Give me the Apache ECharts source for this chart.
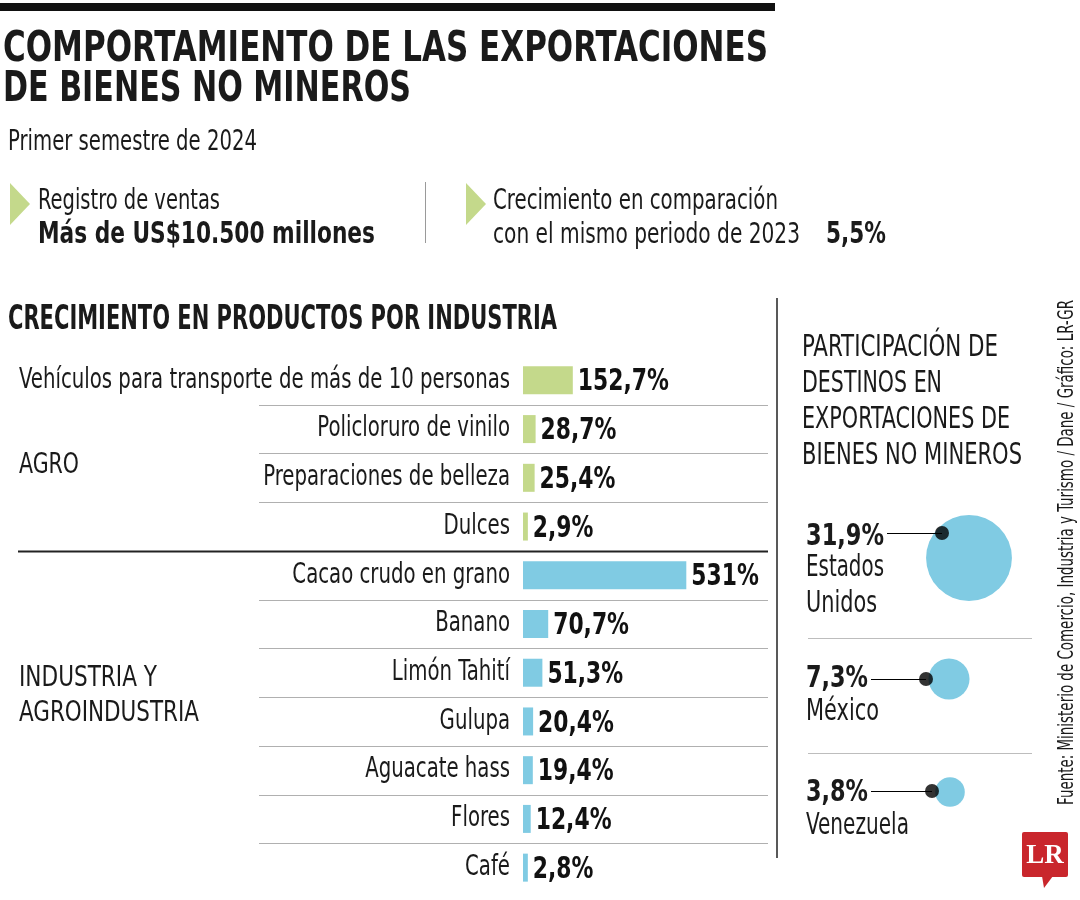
<!DOCTYPE html>
<html><head><meta charset="utf-8">
<script src="https://cdn.jsdelivr.net/npm/echarts@6/dist/echarts.min.js"></script>
<style>html,body{margin:0;padding:0;background:#fff}#c{width:1080px;height:900px}</style>
</head><body><div id="c"></div>
<script>
// ---- data ----
const agroCats = ['Vehículos para transporte de más de 10 personas', 'Policloruro de vinilo', 'Preparaciones de belleza', 'Dulces'];
const agroValues = [152.7, 28.7, 25.4, 2.9];
const induCats = ['Cacao crudo en grano', 'Banano', 'Limón Tahití', 'Gulupa', 'Aguacate hass', 'Flores', 'Café'];
const induValues = [531, 70.7, 51.3, 20.4, 19.4, 12.4, 2.8];
const destNames = ['Estados Unidos', 'México', 'Venezuela'];
const destValues = [31.9, 7.3, 3.8];
const groupNames = ['AGRO', 'INDUSTRIA Y', 'AGROINDUSTRIA'];

// ---- fonts ----
const ctx = document.createElement('canvas').getContext('2d');
function hasFont(f) {
  const t = 'abcdefghijklmnopqrstuvwxyzABCDEFGHIJ0123456789';
  ctx.font = '40px monospace'; const a = ctx.measureText(t).width;
  ctx.font = '40px "' + f + '", monospace'; const b = ctx.measureText(t).width;
  ctx.font = '40px serif'; const c2 = ctx.measureText(t).width;
  ctx.font = '40px "' + f + '", serif'; const d = ctx.measureText(t).width;
  return a !== b || c2 !== d;
}
const FAM = ['Liberation Sans Narrow', 'DejaVu Sans Condensed', 'Roboto'].find(hasFont) || 'sans-serif';
function measure(t, size, weight) { ctx.font = weight + ' ' + size + 'px "' + FAM + '"'; return ctx.measureText(t).width; }

const GREEN = '#c4d98b', BLUE = '#80cbe3', INK = '#1a1a1a';
const fmt = v => String(v).replace('.', ',') + '%';

const cats = agroCats.concat(induCats);
const vals = agroValues.concat(induValues);
const barData = agroValues.map(v => ({ value: v, itemStyle: { color: GREEN } }))
  .concat(induValues.map(v => ({ value: v, itemStyle: { color: BLUE } })));

const bubbleOffsets = [[19, 0], [-1, 4], [0, 0]];
const dotOffsets = [[-8, -25], [-24, 4], [-18, -1]];

const chart = echarts.init(document.getElementById('c'), null, { renderer: 'canvas' });
chart.setOption({
  animation: false,
  backgroundColor: '#fff',
  grid: [
    { left: 523, top: 356, width: 245, height: 536 },
    { left: 850, top: 499.5, width: 200, height: 351 }
  ],
  xAxis: [
    { gridIndex: 0, type: 'value', min: -13.33, max: 803.3, startValue: -13.33, show: false },
    { gridIndex: 1, type: 'value', min: -1, max: 1, show: false }
  ],
  yAxis: [
    { gridIndex: 0, type: 'category', inverse: true, data: cats,
      axisLine: { show: false }, axisTick: { show: false }, splitLine: { show: false },
      axisLabel: { show: false } },
    { gridIndex: 1, type: 'category', inverse: true, data: destNames, show: false }
  ],
  series: [
    { type: 'bar', xAxisIndex: 0, yAxisIndex: 0, data: barData, barWidth: 28 },
    { type: 'scatter', xAxisIndex: 1, yAxisIndex: 1, z: 2,
      data: destValues.map((v, i) => ({ value: [0, destNames[i]], symbolOffset: bubbleOffsets[i] })),
      symbolSize: (val, p) => 15.2 * Math.sqrt(destValues[p.dataIndex]),
      itemStyle: { color: BLUE, opacity: 1 } },
    { type: 'scatter', xAxisIndex: 1, yAxisIndex: 1, z: 3,
      data: destValues.map((v, i) => ({ value: [0, destNames[i]], symbolOffset: dotOffsets[i] })),
      symbolSize: 14, itemStyle: { color: '#000' } }
  ]
});

// ---- static layout elements ----
function txt(text, x, y, size, weight, target, extra, align) {
  const w = measure(text, size, weight);
  return Object.assign({ type: 'text', x: x, y: y, scaleX: target ? target / w : 1, z: 10,
    style: { text: text, fontSize: size, fontWeight: weight, fontFamily: FAM, fill: INK,
      textAlign: align || 'left', textVerticalAlign: 'middle' } }, extra || {});
}
function line(x1, y1, x2, y2, color, w) {
  return { type: 'line', z: 5, shape: { x1, y1, x2, y2 }, style: { stroke: color, lineWidth: w } };
}

const g = [];
g.push({ type: 'rect', shape: { x: 0, y: 3, width: 775, height: 8 }, style: { fill: '#111' } });
g.push(txt('COMPORTAMIENTO DE LAS EXPORTACIONES', 3, 50, 43, 'bold', 765));
g.push(txt('DE BIENES NO MINEROS', 3, 90, 43, 'bold', 408));
g.push(txt('Primer semestre de 2024', 8, 142, 29, 'normal', 249));
g.push({ type: 'polygon', shape: { points: [[10, 183], [10, 225], [30, 204]] }, style: { fill: GREEN } });
g.push(txt('Registro de ventas', 38, 201, 29, 'normal', 182));
g.push(txt('Más de US$10.500 millones', 38, 235, 31, 'bold', 337));
g.push(line(425.5, 182, 425.5, 243, '#9a9a9a', 1));
g.push({ type: 'polygon', shape: { points: [[466, 183], [466, 225], [486, 204]] }, style: { fill: GREEN } });
g.push(txt('Crecimiento en comparación', 493, 201, 29, 'normal', 285));
g.push(txt('con el mismo periodo de 2023', 493, 235, 29, 'normal', 307));
g.push(txt('5,5%', 826, 235, 31, 'bold', 60));
g.push(txt('CRECIMIENTO EN PRODUCTOS POR INDUSTRIA', 8, 320, 33, 'bold', 549));
g.push(txt(groupNames[0], 19, 465, 29, 'normal', 60));
g.push(txt(groupNames[1], 19, 678, 29, 'normal', 138));
g.push(txt(groupNames[2], 19, 713, 29, 'normal', 180));
g.push(line(777, 298, 777, 858, '#222', 1.5));
g.push(txt('PARTICIPACIÓN DE', 802, 348, 31, 'normal', 196));
g.push(txt('DESTINOS EN', 802, 384, 31, 'normal', 140));
g.push(txt('EXPORTACIONES DE', 802, 420, 31, 'normal', 208));
g.push(txt('BIENES NO MINEROS', 802, 456, 31, 'normal', 220));

// category labels, value labels and row separators, placed through the axes' scales
const CAT_SIZE = 28, VAL_SIZE = 31;
const catScale = 491 / measure(cats[0], CAT_SIZE, 'normal');
const valScale = 91 / measure('152,7%', VAL_SIZE, 'bold');
const cy = cats.map(c => chart.convertToPixel({ xAxisIndex: 0, yAxisIndex: 0 }, [0, c])[1]);
cats.forEach((c, i) => {
  g.push({ type: 'text', x: 510, y: cy[i], scaleX: catScale, z: 10,
    style: { text: c, fontSize: CAT_SIZE, fontFamily: FAM, fill: INK, textAlign: 'right', textVerticalAlign: 'middle' } });
  const xEnd = chart.convertToPixel({ xAxisIndex: 0, yAxisIndex: 0 }, [vals[i], c])[0];
  g.push({ type: 'text', x: xEnd + 5, y: cy[i] + 2, scaleX: valScale, z: 10,
    style: { text: fmt(vals[i]), fontSize: VAL_SIZE, fontWeight: 'bold', fontFamily: FAM, fill: '#111', textAlign: 'left', textVerticalAlign: 'middle' } });
});
for (let i = 0; i < cats.length - 1; i++) {
  const y = Math.round((cy[i] + cy[i + 1]) / 2) + 0.5;
  if (i === agroCats.length - 1) g.push(line(18, y, 768, y, '#222', 2));
  else g.push(line(259, y, 768, y, '#b0b0b0', 1));
}

// destinations text + connectors
const destTextY = [[537, 568, 604], [679, 712], [793, 826]];
const destNameLines = [['Estados', 'Unidos'], ['México'], ['Venezuela']];
const destValW = [78, 62, 62];
const destNameW = [[78, 71], [73], [103]];
destValues.forEach((v, i) => {
  g.push(txt(fmt(v), 806, destTextY[i][0], 31, 'bold', destValW[i]));
  destNameLines[i].forEach((n, k) => g.push(txt(n, 806, destTextY[i][k + 1], 30, 'normal', destNameW[i][k])));
  const p = chart.convertToPixel({ xAxisIndex: 1, yAxisIndex: 1 }, [0, destNames[i]]);
  const dx = p[0] + dotOffsets[i][0], dy = p[1] + dotOffsets[i][1];
  g.push(line(806 + destValW[i] + 3, Math.round(dy) + 0.5, dx, Math.round(dy) + 0.5, '#000', 1));
});
g.push(line(808, 638.5, 1032, 638.5, '#bdbdbd', 1));
g.push(line(808, 753.5, 1032, 753.5, '#bdbdbd', 1));

// source (rotated)
const src = 'Fuente: Ministerio de Comercio, Industria y Turismo / Dane / Gráfico: LR-GR';
g.push(txt(src, 1067, 805, 22, 'normal', 505, { rotation: Math.PI / 2 }));

// logo
g.push({ type: 'rect', shape: { x: 1022, y: 832, width: 46, height: 45, r: 2 }, style: { fill: '#c9262c' } });
g.push({ type: 'polygon', shape: { points: [[1042, 876], [1053, 876], [1044, 888]] }, style: { fill: '#c9262c' } });
g.push({ type: 'text', x: 1045, y: 856, z: 11, style: { text: 'LR', fontFamily: 'Liberation Serif, DejaVu Serif, serif',
  fontWeight: 'bold', fontSize: 27, fill: '#fff', textAlign: 'center', textVerticalAlign: 'middle' } });

chart.setOption({ graphic: { elements: g } });
</script>
</body></html>
